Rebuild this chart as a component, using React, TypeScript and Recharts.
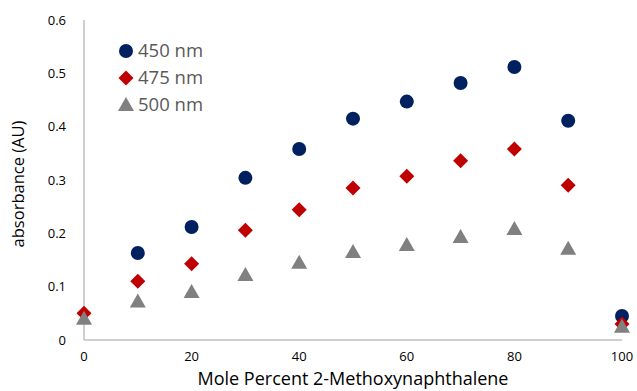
import { Label, Scatter, ScatterChart, XAxis, YAxis } from "recharts";

const molePercent = [0, 10, 20, 30, 40, 50, 60, 70, 80, 90, 100];
const abs450 = [null, 0.163, 0.212, 0.304, 0.358, 0.415, 0.447, 0.482, 0.512, 0.411, 0.045];
const abs475 = [0.05, 0.11, 0.143, 0.206, 0.244, 0.285, 0.307, 0.336, 0.358, 0.29, 0.03];
const abs500 = [0.04, 0.072, 0.09, 0.122, 0.145, 0.165, 0.178, 0.193, 0.208, 0.171, 0.025];
const xTicks = [0, 20, 40, 60, 80, 100];
const yTicks = [0, 0.1, 0.2, 0.3, 0.4, 0.5, 0.6];

const NAVY = "#002060";
const RED = "#c00000";
const GRAY = "#808080";
const FONT = "'Open Sans', sans-serif";

function toPoints(values: (number | null)[]) {
  return molePercent
    .map((x, i) => ({ x, y: values[i] }))
    .filter((p) => p.y !== null);
}

const series = [
  { name: "450 nm", data: toPoints(abs450), color: NAVY, kind: "circle" },
  { name: "475 nm", data: toPoints(abs475), color: RED, kind: "diamond" },
  { name: "500 nm", data: toPoints(abs500), color: GRAY, kind: "triangle" },
];

function Marker({ cx, cy, kind, color }: { cx: number; cy: number; kind: string; color: string }) {
  if (kind === "circle") return <circle cx={cx} cy={cy} r={7} fill={color} />;
  if (kind === "diamond")
    return (
      <polygon
        points={`${cx},${cy - 7.5} ${cx + 7.5},${cy} ${cx},${cy + 7.5} ${cx - 7.5},${cy}`}
        fill={color}
      />
    );
  return (
    <polygon points={`${cx},${cy - 8} ${cx + 8},${cy + 6} ${cx - 8},${cy + 6}`} fill={color} />
  );
}

function LegendBox() {
  return (
    <svg
      width={130}
      height={90}
      style={{ position: "absolute", left: 110, top: 34, fontFamily: FONT }}
    >
      {series.map((s, i) => (
        <g key={s.name}>
          <Marker cx={16} cy={17 + i * 27} kind={s.kind} color={s.color} />
          <text x={28} y={17 + i * 27} dy="0.35em" fontSize={18.5} fill="#595959">
            {s.name}
          </text>
        </g>
      ))}
    </svg>
  );
}

export default function App() {
  return (
    <div style={{ position: "absolute", left: 0, top: 0, width: 637, height: 391, background: "#fff" }}>
      <ScatterChart
        width={637}
        height={391}
        margin={{ top: 20, right: 15, left: 34, bottom: 21 }}
        style={{ fontFamily: FONT }}
      >
        <XAxis
          type="number"
          dataKey="x"
          domain={[0, 100]}
          ticks={xTicks}
          tickLine={false}
          axisLine={{ stroke: "#bfbfbf", strokeWidth: 1.5 }}
          tick={{ fill: "#000", fontSize: 13 }}
          tickMargin={6}
          height={30}
        >
          <Label
            content={({ viewBox }: any) => (
              <text
                x={viewBox.x + viewBox.width / 2}
                y={379}
                dy="0.35em"
                textAnchor="middle"
                fontSize={18}
                fill="#000"
              >
                Mole Percent 2-Methoxynaphthalene
              </text>
            )}
          />
        </XAxis>
        <YAxis
          type="number"
          dataKey="y"
          domain={[0, 0.6]}
          ticks={yTicks}
          tickLine={false}
          axisLine={{ stroke: "#bfbfbf", strokeWidth: 1.5 }}
          tick={{ fill: "#000", fontSize: 13 }}
          tickMargin={12}
          tickFormatter={(v: number) => (v === 0 ? "0" : String(v))}
          width={50}
        >
          <Label
            content={() => (
              <text
                x={18}
                y={184}
                dy="0.35em"
                textAnchor="middle"
                fontSize={16.5}
                fill="#000"
                transform="rotate(-90 18 184)"
              >
                absorbance (AU)
              </text>
            )}
          />
        </YAxis>
        {series.map((s) => (
          <Scatter
            key={s.name}
            name={s.name}
            data={s.data}
            isAnimationActive={false}
            shape={(p: any) => <Marker cx={p.cx} cy={p.cy} kind={s.kind} color={s.color} />}
          />
        ))}
      </ScatterChart>
      <LegendBox />
    </div>
  );
}
